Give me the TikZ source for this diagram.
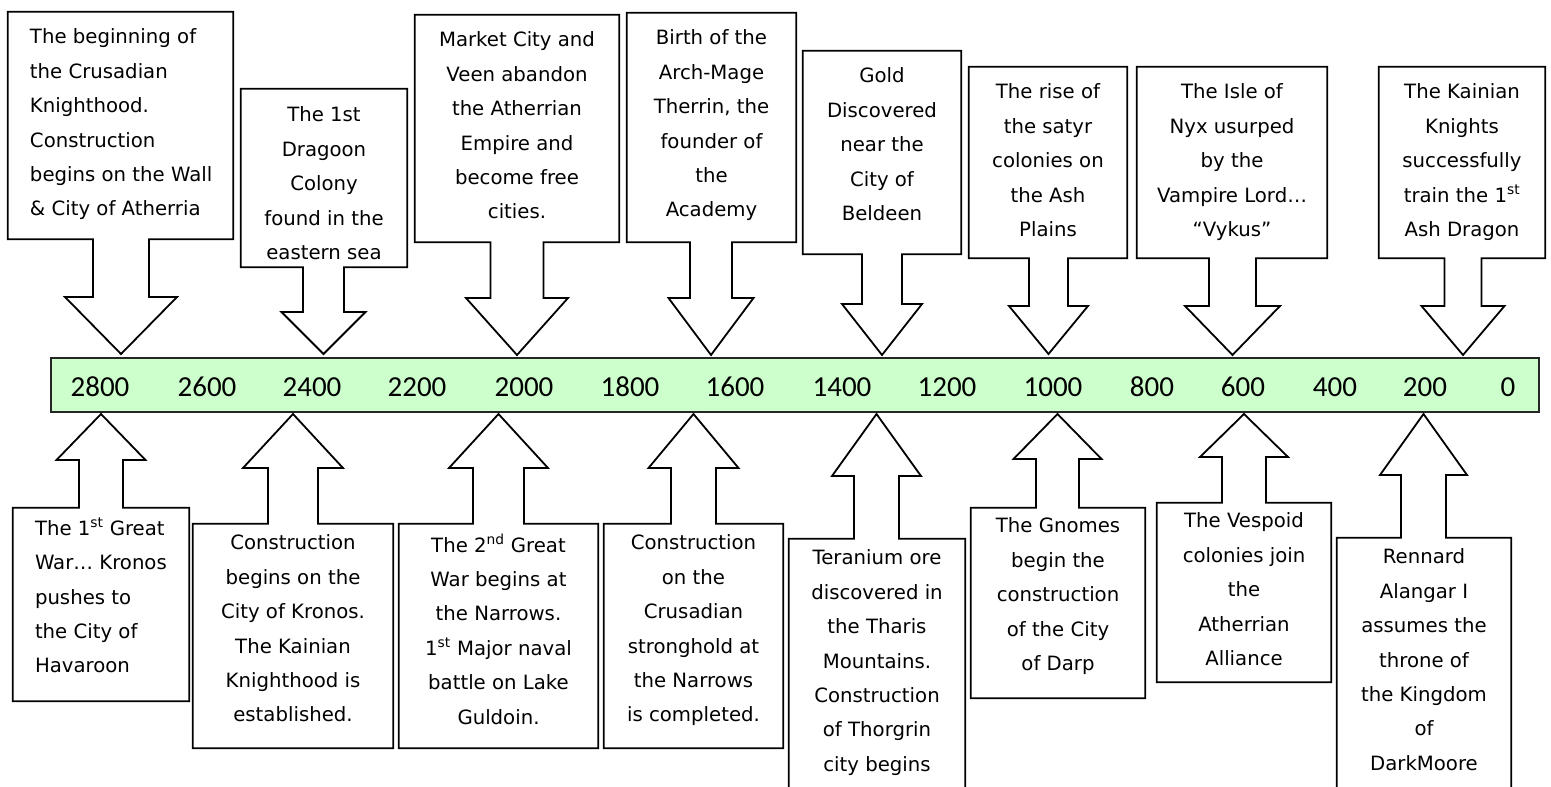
\documentclass[tikz,border=0pt]{standalone}
\usepackage{fontspec}
\usetikzlibrary{calc, positioning}
\usepackage{xcolor}
\newfontfamily\eventfont{DejaVu Sans}
\newfontfamily\yearfont{Carlito}
\definecolor{barfill}{HTML}{CCFFCC}

% #1 box, #2 tip, #3 shaft half width, #4 head half width, #5 head length
\newcommand{\downcallout}[5]{%
  \draw[outline] (#1.south west) -- (#1.north west) -- (#1.north east) -- (#1.south east)
    -- ($(#2 |- #1.south)+(#3,0)$) -- ($(#2)+(#3,-#5)$) -- ($(#2)+(#4,-#5)$) -- (#2)
    -- ($(#2)+(-#4,-#5)$) -- ($(#2)+(-#3,-#5)$) -- ($(#2 |- #1.south)+(-#3,0)$) -- cycle;}
\newcommand{\upcallout}[5]{%
  \draw[outline] (#1.north west) -- (#1.south west) -- (#1.south east) -- (#1.north east)
    -- ($(#2 |- #1.north)+(#3,0)$) -- ($(#2)+(#3,#5)$) -- ($(#2)+(#4,#5)$) -- (#2)
    -- ($(#2)+(-#4,#5)$) -- ($(#2)+(-#3,#5)$) -- ($(#2 |- #1.north)+(-#3,0)$) -- cycle;}

\begin{document}
\begin{tikzpicture}[
    x=1pt, y=-1pt,
    outline/.style={draw=black, line width=1.8pt, line join=miter},
    evbox/.style 2 args={rectangle, inner sep=0pt, minimum width=#1pt, minimum height=#2pt},
    evtext/.style={inner sep=0pt, align=center, anchor=north,
                   font=\eventfont\fontsize{19.7}{34.4}\selectfont},
    evleft/.style={evtext, align=left, anchor=north west},
    timebar/.style={rectangle, draw=black!85, fill=barfill, line width=1.6pt,
                    minimum width=1488pt, minimum height=54pt, inner sep=0pt},
    year/.style={inner sep=0pt, font=\yearfont\fontsize{29}{30}\selectfont}
]
\useasboundingbox (0,0) rectangle (1551,787);

\node[timebar] (bar) at (795,385) {};
\foreach \yr/\xpos in {2800/100, 2600/207, 2400/312, 2200/417, 2000/524, 1800/630,
    1600/735, 1400/842, 1200/947, 1000/1053, 800/1152, 600/1243, 400/1335, 200/1425, 0/1508}
  \node[year] (yr\yr) at (\xpos,387) {\yr};

% events above the bar
\node[evbox={225}{227}] (crusade) at (120.5,125.5) {};
\coordinate (crusade-tip) at (121,354);
\downcallout{crusade}{crusade-tip}{28}{56}{57}
\node[evleft] (crusade-txt) at ($(crusade.north west)+(22,17)$) {The beginning of\\the Crusadian\\Knighthood.\\Construction\\begins on the Wall\\\& City of Atherria};

\node[evbox={166}{178}] (dragoon) at (324,178) {};
\coordinate (dragoon-tip) at (323.5,354);
\downcallout{dragoon}{dragoon-tip}{20.5}{42}{42}
\node[evtext] (dragoon-txt) at ($(dragoon.north)+(0,18)$) {The 1st\\Dragoon\\Colony\\found in the\\eastern sea};

\node[evbox={204}{227}] (market) at (517,128.5) {};
\coordinate (market-tip) at (517,355);
\downcallout{market}{market-tip}{26.5}{51}{57}
\node[evtext] (market-txt) at ($(market.north)+(0,17)$) {Market City and\\Veen abandon\\the Atherrian\\Empire and\\become free\\cities.};

\node[evbox={169}{229}] (archmage) at (711.5,127.5) {};
\coordinate (archmage-tip) at (711,355);
\downcallout{archmage}{archmage-tip}{21}{42.5}{57}
\node[evtext] (archmage-txt) at ($(archmage.north)+(0,17)$) {Birth of the\\Arch-Mage\\Therrin, the\\founder of\\the\\Academy};

\node[evbox={158}{203}] (gold) at (882,152.5) {};
\coordinate (gold-tip) at (882,355);
\downcallout{gold}{gold-tip}{20}{40}{51}
\node[evtext] (gold-txt) at ($(gold.north)+(0,17)$) {Gold\\Discovered\\near the\\City of\\Beldeen};

\node[evbox={158}{191}] (satyr) at (1048,162.5) {};
\coordinate (satyr-tip) at (1048.5,354);
\downcallout{satyr}{satyr-tip}{19.5}{39.5}{48}
\node[evtext] (satyr-txt) at ($(satyr.north)+(0,17)$) {The rise of\\the satyr\\colonies on\\the Ash\\Plains};

\node[evbox={190}{191}] (nyx) at (1232,162.5) {};
\coordinate (nyx-tip) at (1232.5,355);
\downcallout{nyx}{nyx-tip}{23.5}{47.5}{49}
\node[evtext] (nyx-txt) at ($(nyx.north)+(0,17)$) {The Isle of\\Nyx usurped\\by the\\Vampire Lord…\\“Vykus”};

\node[evbox={166}{191}] (ashdragon) at (1462,162.5) {};
\coordinate (ashdragon-tip) at (1463,355);
\downcallout{ashdragon}{ashdragon-tip}{18.5}{41.5}{49}
\node[evtext] (ashdragon-txt) at ($(ashdragon.north)+(0,17)$) {The Kainian\\Knights\\successfully\\train the 1\textsuperscript{st}\\Ash Dragon};

% events below the bar
\node[evbox={176}{193}] (war1) at (101,604.5) {};
\coordinate (war1-tip) at (101,414);
\upcallout{war1}{war1-tip}{22}{44.5}{46}
\node[evleft] (war1-txt) at ($(war1.north west)+(22,10)$) {The 1\textsuperscript{st} Great\\War… Kronos\\pushes to\\the City of\\Havaroon};

\node[evbox={200}{224}] (kronos) at (293,636) {};
\coordinate (kronos-tip) at (293,414);
\upcallout{kronos}{kronos-tip}{25}{50}{54}
\node[evtext] (kronos-txt) at ($(kronos.north)+(0,11)$) {Construction\\begins on the\\City of Kronos.\\The Kainian\\Knighthood is\\established.};

\node[evbox={199}{224}] (war2) at (498.5,636) {};
\coordinate (war2-tip) at (498.5,414);
\upcallout{war2}{war2-tip}{25.5}{49.5}{54}
\node[evtext] (war2-txt) at ($(war2.north)+(0,10)$) {The 2\textsuperscript{nd} Great\\War begins at\\the Narrows.\\1\textsuperscript{st} Major naval\\battle on Lake\\Guldoin.};

\node[evbox={179}{224}] (stronghold) at (693.5,636) {};
\coordinate (stronghold-tip) at (693.5,414);
\upcallout{stronghold}{stronghold-tip}{22.5}{45}{54}
\node[evtext] (stronghold-txt) at ($(stronghold.north)+(0,11)$) {Construction\\on the\\Crusadian\\stronghold at\\the Narrows\\is completed.};

\node[evbox={176}{261}] (teranium) at (877,669.5) {};
\coordinate (teranium-tip) at (876.5,414);
\upcallout{teranium}{teranium-tip}{22.5}{44.5}{62}
\node[evtext] (teranium-txt) at ($(teranium.north)+(0,11)$) {Teranium ore\\discovered in\\the Tharis\\Mountains.\\Construction\\of Thorgrin\\city begins};

\node[evbox={174}{190}] (gnomes) at (1058,603) {};
\coordinate (gnomes-tip) at (1057.5,414);
\upcallout{gnomes}{gnomes-tip}{21.5}{44}{45}
\node[evtext] (gnomes-txt) at ($(gnomes.north)+(0,10)$) {The Gnomes\\begin the\\construction\\of the City\\of Darp};

\node[evbox={174}{179}] (vespoid) at (1244,592.5) {};
\coordinate (vespoid-tip) at (1244,414);
\upcallout{vespoid}{vespoid-tip}{22}{44}{43}
\node[evtext] (vespoid-txt) at ($(vespoid.north)+(0,10)$) {The Vespoid\\colonies join\\the\\Atherrian\\Alliance};

\node[evbox={174}{262}] (rennard) at (1424,669) {};
\coordinate (rennard-tip) at (1423.5,414);
\upcallout{rennard}{rennard-tip}{22.5}{43.5}{61}
\node[evtext] (rennard-txt) at ($(rennard.north)+(0,11)$) {Rennard\\Alangar I\\assumes the\\throne of\\the Kingdom\\of\\DarkMoore};
\end{tikzpicture}
\end{document}
